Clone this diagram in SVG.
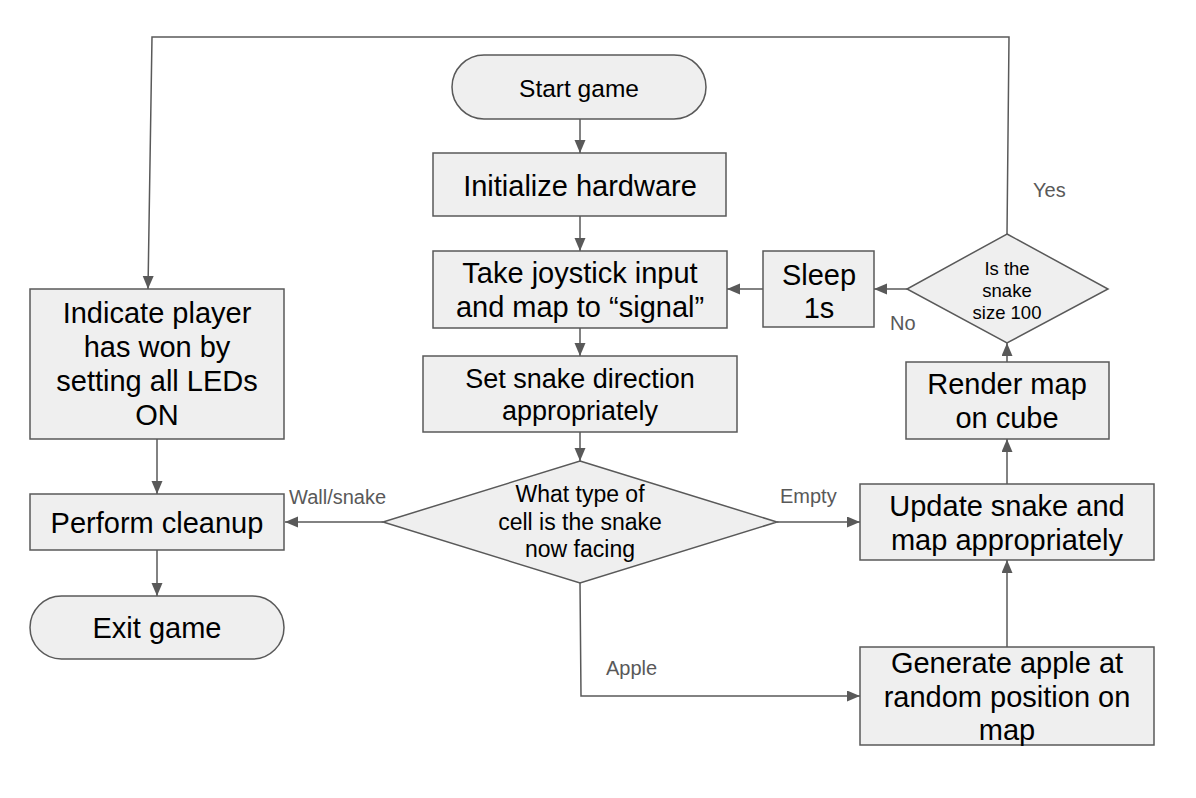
<svg xmlns="http://www.w3.org/2000/svg" width="1196" height="798" viewBox="0 0 1196 798">
<style>
.n{fill:#efefef;stroke:#595959;stroke-width:1.5}
.t{font-family:"Liberation Sans",Arial,sans-serif;font-size:29px;fill:#000;text-anchor:middle}
.s{font-size:27px}
.m{font-size:23px}
.x{font-size:18.5px}
.st{font-size:24.5px}
.l{font-family:"Liberation Sans",Arial,sans-serif;font-size:20px;fill:#595959}
.e{fill:none;stroke:#595959;stroke-width:1.5;marker-end:url(#a)}
</style>
<defs>
<marker id="a" markerUnits="userSpaceOnUse" markerWidth="14" markerHeight="12" refX="13" refY="5.5" orient="auto">
<path d="M0,0 L13,5.5 L0,11 z" fill="#595959"/>
</marker>
</defs>
<rect width="1196" height="798" fill="#fff"/>
<g id="connectors">
<path class="e" d="M580,119 L580,153"/>
<path class="e" d="M580,216 L580,251"/>
<path class="e" d="M580,328 L580,356"/>
<path class="e" d="M580,432 L580,461"/>
<path class="e" d="M383,522 L285,522"/>
<path class="e" d="M777,522 L860,522"/>
<path class="e" d="M580,583 L581,696 L860,696"/>
<path class="e" d="M1007,647 L1007,560"/>
<path class="e" d="M1007,484 L1007,439"/>
<path class="e" d="M1007,362 L1007,343"/>
<path class="e" d="M907,289 L874,289"/>
<path class="e" d="M763,289 L727,289"/>
<path class="e" d="M1007,234 L1009,37 L152,37 L148,289"/>
<path class="e" d="M157,439 L157,494"/>
<path class="e" d="M157,550 L157,596"/>
<text class="l" x="289" y="504">Wall/snake</text>
<text class="l" x="780" y="503">Empty</text>
<text class="l" x="606" y="675">Apple</text>
<text class="l" x="1033" y="197">Yes</text>
<text class="l" x="890" y="330">No</text>
</g>
<g id="start">
<rect class="n" x="452" y="55" width="254" height="64" rx="32" ry="32"/>
<text class="t st" x="579" y="97">Start game</text>
</g>
<g id="init">
<rect class="n" x="433" y="153" width="293" height="63"/>
<text class="t" x="580" y="196">Initialize hardware</text>
</g>
<g id="take">
<rect class="n" x="433" y="251" width="294" height="77"/>
<text class="t" x="580" y="283">Take joystick input</text>
<text class="t" x="580" y="317">and map to “signal”</text>
</g>
<g id="setdir">
<rect class="n" x="423" y="356" width="314" height="76"/>
<text class="t s" x="580" y="388">Set snake direction</text>
<text class="t s" x="580" y="420">appropriately</text>
</g>
<g id="celltype">
<polygon class="n" points="580,461 777,522 580,583 383,522"/>
<text class="t m" x="580" y="502">What type of</text>
<text class="t m" x="580" y="530">cell is the snake</text>
<text class="t m" x="580" y="557">now facing</text>
</g>
<g id="sleep">
<rect class="n" x="763" y="251" width="111" height="76"/>
<text class="t" x="819" y="285">Sleep</text>
<text class="t" x="819" y="318">1s</text>
</g>
<g id="size100">
<polygon class="n" points="1007,234 1108,289 1007,343 907,289"/>
<text class="t x" x="1007" y="275">Is the</text>
<text class="t x" x="1007" y="297">snake</text>
<text class="t x" x="1007" y="319">size 100</text>
</g>
<g id="render">
<rect class="n" x="906" y="362" width="203" height="77"/>
<text class="t" x="1007" y="394">Render map</text>
<text class="t" x="1007" y="428">on cube</text>
</g>
<g id="update">
<rect class="n" x="860" y="484" width="294" height="76"/>
<text class="t" x="1007" y="516">Update snake and</text>
<text class="t" x="1007" y="550">map appropriately</text>
</g>
<g id="apple">
<rect class="n" x="860" y="647" width="294" height="98"/>
<text class="t" x="1007" y="673">Generate apple at</text>
<text class="t" x="1007" y="707">random position on</text>
<text class="t" x="1007" y="740">map</text>
</g>
<g id="won">
<rect class="n" x="30" y="289" width="254" height="150"/>
<text class="t" x="157" y="323">Indicate player</text>
<text class="t" x="157" y="357">has won by</text>
<text class="t" x="157" y="391">setting all LEDs</text>
<text class="t" x="157" y="425">ON</text>
</g>
<g id="cleanup">
<rect class="n" x="30" y="494" width="254" height="56"/>
<text class="t" x="157" y="533">Perform cleanup</text>
</g>
<g id="exit">
<rect class="n" x="30" y="596" width="254" height="63" rx="31.5" ry="31.5"/>
<text class="t" x="157" y="638">Exit game</text>
</g>
</svg>
